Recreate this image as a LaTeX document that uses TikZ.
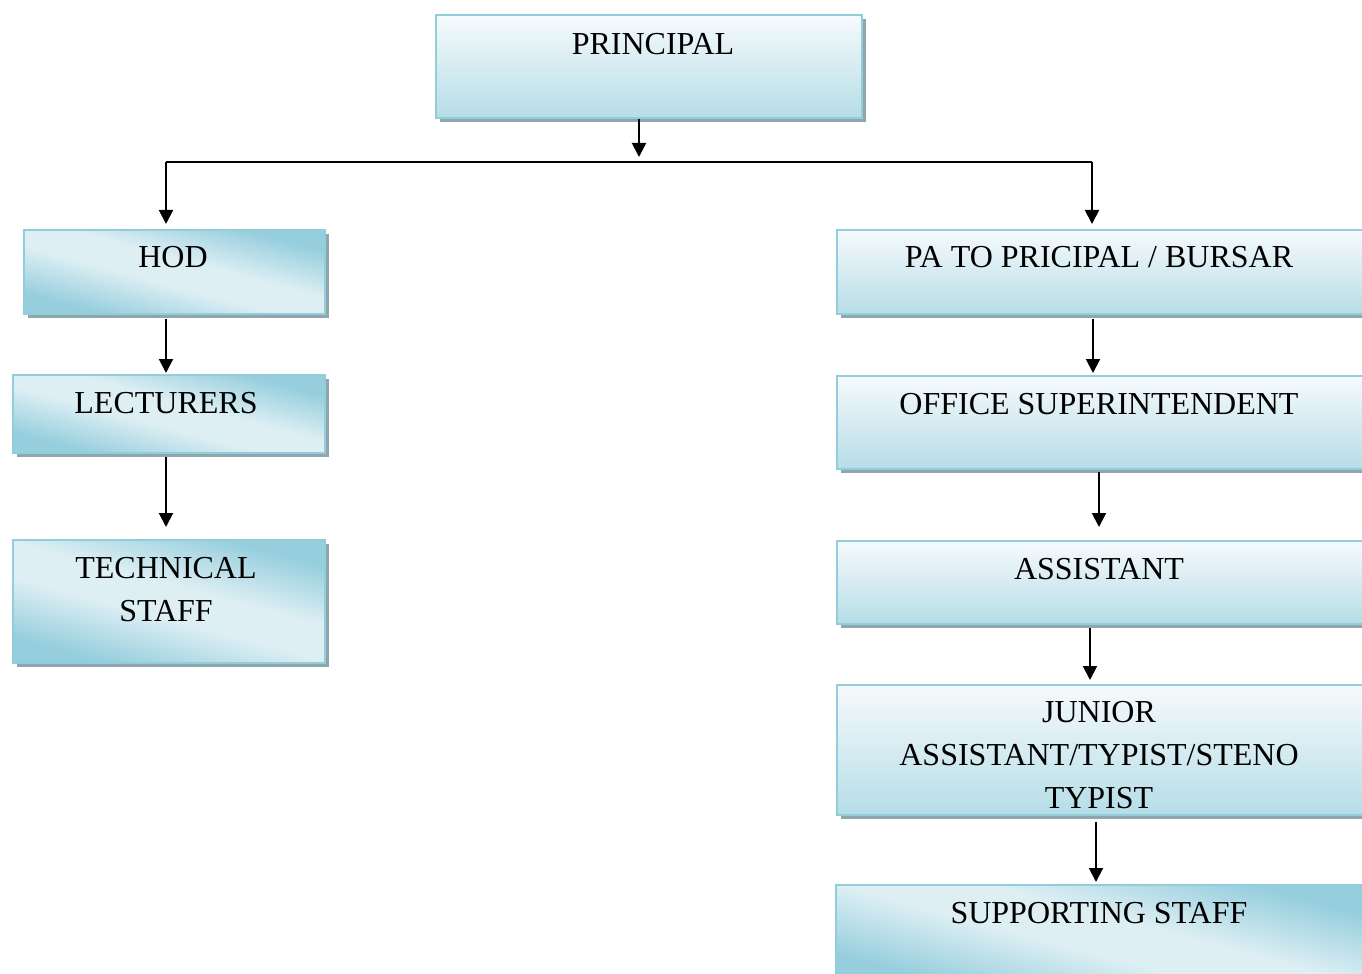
\documentclass[tikz,border=0pt]{standalone}
\usepackage{fontspec}
\setmainfont{Liberation Serif}
\usetikzlibrary{arrows.meta,shadows}

\definecolor{boxedge}{HTML}{92CDDC}
\definecolor{boxtop}{HTML}{F6FAFC}
\definecolor{boxbot}{HTML}{B6DDE7}
\definecolor{boxdark}{HTML}{96CEDD}
\definecolor{boxlight}{HTML}{DEEFF4}
\definecolor{shadowgray}{HTML}{8FA6AD}

\pgfdeclareverticalshading{diagshade}{100bp}{color(0bp)=(boxdark); color(27bp)=(boxdark);
  color(45bp)=(boxlight); color(55bp)=(boxlight); color(73bp)=(boxdark); color(100bp)=(boxdark)}

\tikzset{box/.style={draw=boxedge, line width=1pt, inner sep=0pt, anchor=north west,
    drop shadow={shadow xshift=2pt, shadow yshift=-2pt, fill=shadowgray, opacity=1}}}
\tikzset{vbox/.style={box, top color=boxtop, bottom color=boxbot}}
\tikzset{dbox/.style={box, shade, shading=diagshade, shading angle=-15}}
\tikzset{txt/.style={anchor=north, inner sep=0pt, align=center, font=\fontsize{16}{21.5}\selectfont}}
\tikzset{arr/.style={-{Triangle[width=7pt,length=7pt]}, line width=1pt}}

\begin{document}
\begin{tikzpicture}[x=0.5pt, y=-0.5pt]
\useasboundingbox (0,0) rectangle (1362,974);
\clip (0,0) rectangle (1362,974);
% boxes
\node[vbox, minimum width=213pt, minimum height=51.5pt] (principal) at (435,14) {};
\node[dbox, minimum width=150.5pt, minimum height=42pt] (hod) at (23,229) {};
\node[dbox, minimum width=156pt, minimum height=39pt] (lect) at (12,374) {};
\node[dbox, minimum width=156pt, minimum height=61.5pt] (tech) at (12,539) {};
\node[vbox, minimum width=265pt, minimum height=42pt] (pa) at (836,229) {};
\node[vbox, minimum width=265pt, minimum height=46.5pt] (office) at (836,375) {};
\node[vbox, minimum width=265pt, minimum height=41.5pt] (asst) at (836,540) {};
\node[vbox, minimum width=265pt, minimum height=65pt] (junior) at (836,684) {};
\node[dbox, minimum width=265.5pt, minimum height=50pt] (support) at (835,884) {};
% texts
\node[txt] (principaltxt) at (653,33) {PRINCIPAL};
\node[txt] (hodtxt) at (173,246) {HOD};
\node[txt] (lecttxt) at (166,392) {LECTURERS};
\node[txt] (techtxt) at (166,557) {TECHNICAL\\STAFF};
\node[txt] (patxt) at (1099,246) {PA TO PRICIPAL / BURSAR};
\node[txt] (officetxt) at (1099,393) {OFFICE SUPERINTENDENT};
\node[txt] (assttxt) at (1099,558) {ASSISTANT};
\node[txt] (juniortxt) at (1099,701) {JUNIOR\\ASSISTANT/TYPIST/STENO\\TYPIST};
\node[txt] (supporttxt) at (1099,902) {SUPPORTING STAFF};
% connectors
\coordinate (split) at (639,162);
\coordinate (hl) at (166,162);
\coordinate (hr) at (1092,162);
\draw[arr, shorten >=2.5pt] (principal.south -| split) -- (split);
\draw[line width=1pt] (hl) -- (hr);
\draw[arr, shorten >=2.5pt] (hl) -- (hod.north -| hl);
\draw[arr, shorten >=2.5pt] (hr) -- (pa.north -| hr);
\draw[arr, shorten <=2pt, shorten >=0.5pt] (hod.south -| hl) -- (lect.north -| hl);
\draw[arr, shorten <=1.5pt, shorten >=6pt] (lect.south -| hl) -- (tech.north -| hl);
\draw[arr, shorten <=2pt, shorten >=1pt] ([xshift=-4.5pt]pa.south) -- ([xshift=-4.5pt]office.north);
\draw[arr, shorten <=1pt, shorten >=6.5pt] ([xshift=-1.5pt]office.south) -- ([xshift=-1.5pt]asst.north);
\draw[arr, shorten <=1.5pt, shorten >=2pt] ([xshift=-6pt]asst.south) -- ([xshift=-6pt]junior.north);
\draw[arr, shorten <=3pt, shorten >=1pt] ([xshift=-3pt]junior.south) -- ([xshift=-3pt]junior.south |- support.north);
\end{tikzpicture}
\end{document}
